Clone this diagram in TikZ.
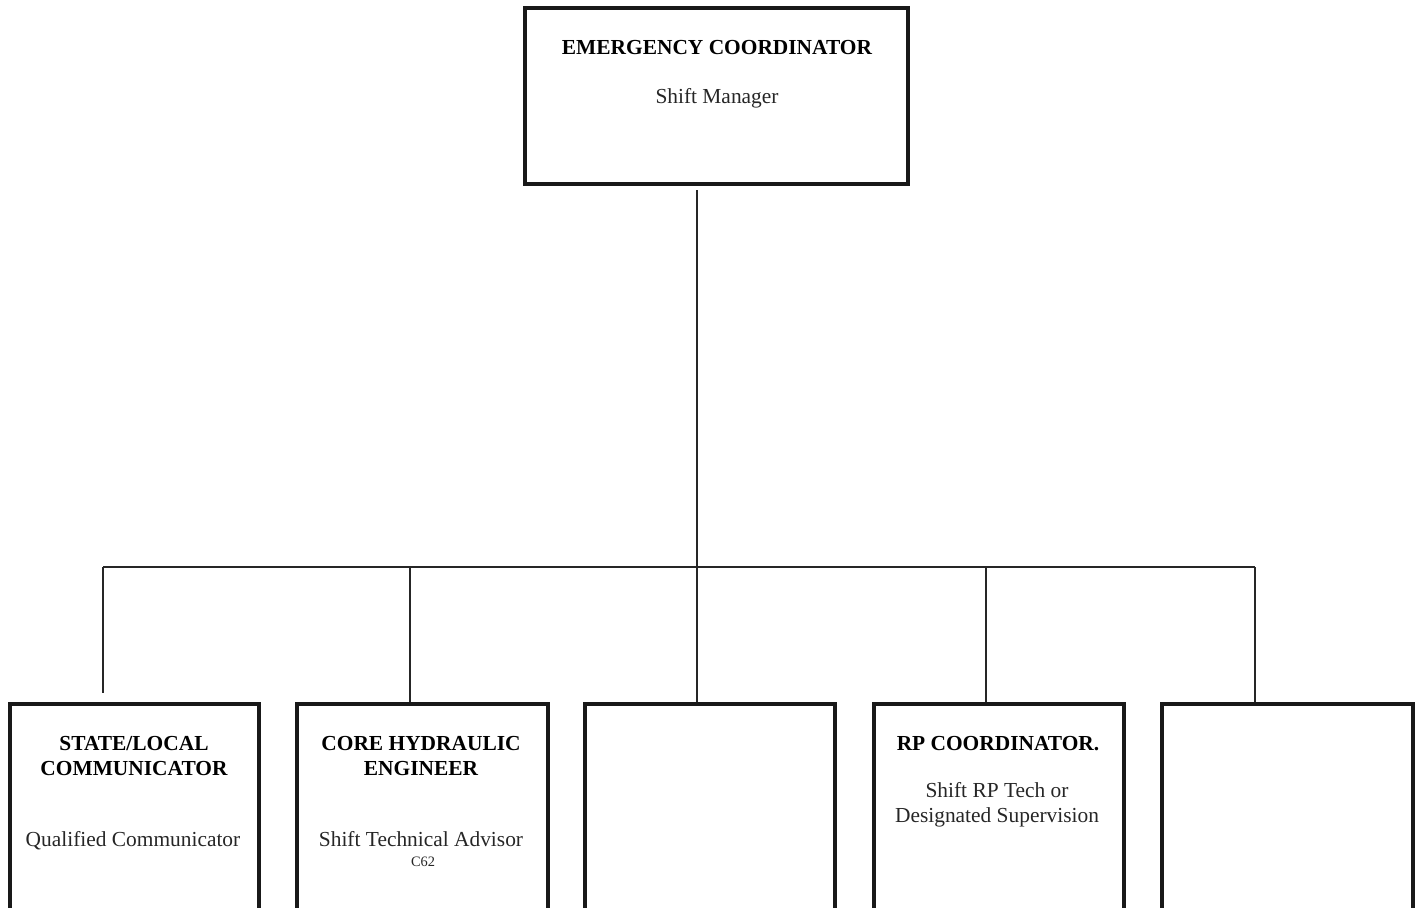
\documentclass[tikz,border=0pt]{standalone}
\usepackage{fontspec}
\setmainfont{Liberation Serif}
\begin{document}
\begin{tikzpicture}[x=0.5pt,y=-0.5pt,
  box/.style={draw=black!90, line width=2pt, rectangle, inner sep=0pt},
  link/.style={draw=black!85, line width=0.75pt},
  head/.style={anchor=base, font=\fontsize{10.7}{12.5}\selectfont\bfseries, align=center, inner sep=0pt},
  role/.style={anchor=base, font=\fontsize{10.7}{12.5}\selectfont, align=center, inner sep=0pt, text=black!85},
  tag/.style={anchor=base, font=\fontsize{7.2}{8}\selectfont, inner sep=0pt, text=black!85}]
\useasboundingbox (0,0) rectangle (1417,907);
\clip (0,0) rectangle (1417,907);

% top box
\node[box, minimum width=191.5pt, minimum height=87.75pt] (ec) at (716.5,95.75) {};
\node[head] (ect) at (717,54) {EMERGENCY COORDINATOR};
\node[role] (ecr) at (717,103) {Shift Manager};

% lower row of boxes (running past the bottom edge)
\foreach \n/\cx/\w in {b1/134.5/124.5, b2/422.5/125.5, b3/710/125, b4/999/125, b5/1287.5/125.5}
  \node[box, minimum width=\w pt, minimum height=113pt] (\n) at (\cx,817) {};

\node[head] (b1h1) at (134,750) {STATE/LOCAL};
\node[head] (b1h2) at (134,775) {COMMUNICATOR};
\node[role] (b1r) at (133,846) {Qualified Communicator};

\node[head] (b2h1) at (421,750) {CORE HYDRAULIC};
\node[head] (b2h2) at (421,775) {ENGINEER};
\node[role] (b2r) at (421,846) {Shift Technical Advisor};
\node[tag] (b2t) at (423,866) {C62};

\node[head] (b4h) at (998,750) {RP COORDINATOR.};
\node[role] (b4r1) at (997,797) {Shift RP Tech or};
\node[role] (b4r2) at (997,822) {Designated Supervision};

% connectors
\coordinate (trunk) at (697,190);
\coordinate (busL) at (103,567);
\coordinate (busR) at (1255,567);
\coordinate (d1) at (103,693);
\draw[link] (trunk) -- (trunk |- b3.north);
\draw[link] (busL) -- (busR);
\draw[link] (busL) -- (d1);
\draw[link] (410,567) -- (410,0 |- b2.north);
\draw[link] (986,567) -- (986,0 |- b4.north);
\draw[link] (busR) -- (busR |- b5.north);
\end{tikzpicture}
\end{document}
